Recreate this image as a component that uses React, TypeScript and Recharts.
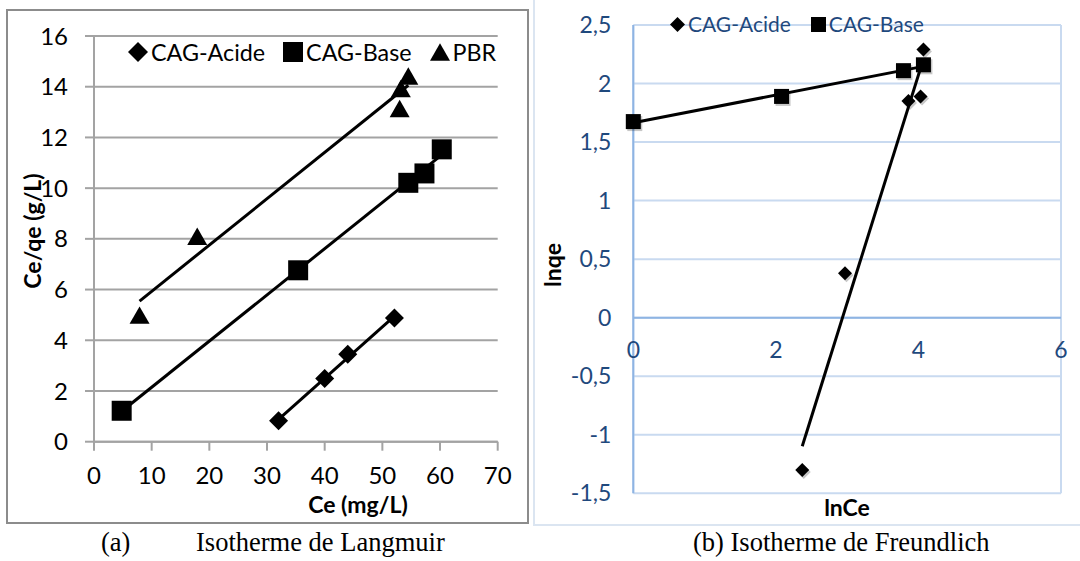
import React from "react";
import {
	CartesianGrid,
	Legend,
	ReferenceDot,
	ReferenceLine,
	Scatter,
	ScatterChart,
	XAxis,
	YAxis,
} from "recharts";

// (a) Langmuir : Ce (mg/L) vs Ce/qe (g/L)
const langAcideCe = [32, 40, 44, 52.1];
const langAcideRatio = [0.83, 2.49, 3.45, 4.88];
const langBaseCe = [4.8, 35.4, 54.5, 57.3, 60.3];
const langBaseRatio = [1.22, 6.76, 10.21, 10.58, 11.53];
const langPbrCe = [7.9, 17.9, 53.0, 53.2, 54.5];
const langPbrRatio = [4.99, 8.1, 13.14, 13.93, 14.42];
const langXTicks = [0, 10, 20, 30, 40, 50, 60, 70];
const langYTicks = [0, 2, 4, 6, 8, 10, 12, 14, 16];

// (b) Freundlich : lnCe vs lnqe
const freuAcideLnCe = [2.37, 2.97, 3.86, 4.03, 4.07];
const freuAcideLnQe = [-1.3, 0.38, 1.85, 1.89, 2.29];
const freuBaseLnCe = [0, 2.08, 3.79, 4.07];
const freuBaseLnQe = [1.675, 1.89, 2.11, 2.16];
const freuXTicks = [0, 2, 4, 6];
const freuYTicks = [-1.5, -1, -0.5, 0, 0.5, 1, 1.5, 2, 2.5];

const FONT = "Lato, 'Noto Sans', sans-serif";
const TEXT_BLUE = "#1f497d";

const zip = (xs: number[], ys: number[]) => xs.map((x, i) => ({ x, y: ys[i] }));

// linear trendline (least squares) spanning the data's x range, like Excel
function trend(xs: number[], ys: number[]) {
	const n = xs.length;
	const mx = xs.reduce((a, b) => a + b, 0) / n;
	const my = ys.reduce((a, b) => a + b, 0) / n;
	let sxy = 0;
	let sxx = 0;
	xs.forEach((x, i) => {
		sxy += (x - mx) * (ys[i] - my);
		sxx += (x - mx) * (x - mx);
	});
	const slope = sxy / sxx;
	const x0 = Math.min(...xs);
	const x1 = Math.max(...xs);
	return [
		{ x: x0, y: my + slope * (x0 - mx) },
		{ x: x1, y: my + slope * (x1 - mx) },
	];
}

const comma = (v: number) => String(v).replace(".", ",");

const shadow = "rgba(0,0,0,0.22)";

function markerPath(type: string, cx: number, cy: number, h: number) {
	if (type === "diamond") {
		return `M${cx},${cy - h}L${cx + h},${cy}L${cx},${cy + h}L${cx - h},${cy}Z`;
	}
	if (type === "triangle") {
		const t = h * 0.87;
		return `M${cx},${cy - t}L${cx + h},${cy + t}L${cx - h},${cy + t}Z`;
	}
	return `M${cx - h},${cy - h}h${2 * h}v${2 * h}h${-2 * h}Z`;
}

const marker = (type: string, h: number, withShadow = false) => (p: any) => (
	<g>
		{withShadow && (
			<path d={markerPath(type, p.cx + 1.5, p.cy + 2, h)} fill={shadow} />
		)}
		<path d={markerPath(type, p.cx, p.cy, h)} fill="#000" />
	</g>
);

const noMarker = () => <g />;

const legendContent =
	(color: string, fontSize: number, iconSize: number, gap: number) =>
	(props: any) => (
		<div
			style={{
				display: "flex",
				alignItems: "center",
				fontFamily: FONT,
				whiteSpace: "nowrap",
			}}
		>
			{(props.payload || [])
				.filter((entry: any) => entry.type !== "none")
				.map((entry: any) => (
					<span
						key={entry.value}
						style={{ display: "flex", alignItems: "center", marginRight: gap }}
					>
						<svg width={iconSize + 2} height={iconSize + 2}>
							<path
								d={markerPath(
									entry.type,
									(iconSize + 2) / 2,
									(iconSize + 2) / 2,
									iconSize / 2,
								)}
								fill="#000"
							/>
						</svg>
						<span style={{ marginLeft: 2, color, fontSize, lineHeight: "26px" }}>
							{entry.value}
						</span>
					</span>
				))}
		</div>
	);

const title: React.CSSProperties = {
	position: "absolute",
	fontFamily: FONT,
	fontWeight: 700,
	fontSize: 23,
	whiteSpace: "nowrap",
	color: "#000",
	transform: "translate(-50%, -50%)",
};

const caption: React.CSSProperties = {
	position: "absolute",
	fontFamily: "'Liberation Serif', 'Times New Roman', serif",
	fontSize: 26.5,
	lineHeight: "26px",
	whiteSpace: "nowrap",
	color: "#000",
};

export default function App() {
	return (
		<div
			style={{
				position: "absolute",
				left: 0,
				top: 0,
				width: 1080,
				height: 561,
				background: "#fff",
				overflow: "hidden",
				fontFamily: FONT,
			}}
		>
			{/* (a) Langmuir */}
			<div
				style={{
					position: "absolute",
					left: 6,
					top: 9,
					width: 523,
					height: 515,
					border: "2px solid #8c8c8c",
					boxSizing: "border-box",
				}}
			>
				<ScatterChart
					width={519}
					height={511}
					margin={{ top: 25, right: 29.3, left: 26, bottom: 40.3 }}
				>
					<CartesianGrid vertical={false} stroke="#a3a3a3" strokeWidth={2} />
					<XAxis
						type="number"
						dataKey="x"
						domain={[0, 70]}
						ticks={langXTicks}
						height={40}
						axisLine={{ stroke: "#a3a3a3", strokeWidth: 2 }}
						tickLine={{ stroke: "#a3a3a3", strokeWidth: 2 }}
						tickSize={9}
						tickMargin={16}
						tick={{ fill: "#000", fontSize: 24 }}
					/>
					<YAxis
						type="number"
						dataKey="y"
						domain={[0, 16]}
						ticks={langYTicks}
						width={60}
						axisLine={{ stroke: "#a3a3a3", strokeWidth: 2 }}
						tickLine={{ stroke: "#a3a3a3", strokeWidth: 2 }}
						tickSize={9}
						tickMargin={17}
						tick={{ fill: "#000", fontSize: 24 }}
					/>
					<Legend
						layout="horizontal"
						verticalAlign="middle"
						align="center"
						wrapperStyle={{ left: 119, top: 28, width: 400 }}
						content={legendContent("#000", 23.3, 20, 17)}
					/>
					<Scatter
						name="CAG-Acide"
						legendType="diamond"
						data={zip(langAcideCe, langAcideRatio)}
						fill="#000"
						shape={marker("diamond", 9.5)}
						isAnimationActive={false}
					/>
					<Scatter
						name="CAG-Base"
						legendType="square"
						data={zip(langBaseCe, langBaseRatio)}
						fill="#000"
						shape={marker("square", 10)}
						isAnimationActive={false}
					/>
					<Scatter
						name="PBR"
						legendType="triangle"
						data={zip(langPbrCe, langPbrRatio)}
						fill="#000"
						shape={marker("triangle", 10)}
						isAnimationActive={false}
					/>
					<Scatter
						legendType="none"
						data={trend(langAcideCe, langAcideRatio)}
						line={{ stroke: "#000", strokeWidth: 3 }}
						shape={noMarker}
						isAnimationActive={false}
					/>
					<Scatter
						legendType="none"
						data={trend(langBaseCe, langBaseRatio)}
						line={{ stroke: "#000", strokeWidth: 3 }}
						shape={noMarker}
						isAnimationActive={false}
					/>
					<Scatter
						legendType="none"
						data={trend(langPbrCe, langPbrRatio)}
						line={{ stroke: "#000", strokeWidth: 3 }}
						shape={noMarker}
						isAnimationActive={false}
					/>
				</ScatterChart>
			</div>
			<div style={{ ...title, left: 32, top: 231, transform: "translate(-50%, -50%) rotate(-90deg)" }}>
				Ce/qe (g/L)
			</div>
			<div style={{ ...title, left: 358, top: 504 }}>Ce (mg/L)</div>

			{/* (b) Freundlich */}
			<div
				style={{
					position: "absolute",
					left: 533,
					top: -2,
					width: 600,
					height: 528,
					border: "2px solid #dbe5f1",
					boxSizing: "border-box",
				}}
			>
				<ScatterChart
					width={545}
					height={524}
					margin={{ top: 25, right: 19, left: 38.3, bottom: 29.7 }}
				>
					<CartesianGrid stroke="#c9daf0" strokeWidth={2} />
					<XAxis
						type="number"
						dataKey="x"
						domain={[0, 6]}
						ticks={freuXTicks}
						height={1}
						axisLine={false}
						tickLine={false}
						tick={false}
					/>
					<YAxis
						type="number"
						dataKey="y"
						domain={[-1.5, 2.5]}
						ticks={freuYTicks}
						width={60}
						axisLine={{ stroke: "#8eb4e3", strokeWidth: 2 }}
						tickLine={false}
						tickSize={6}
						tickMargin={16}
						tickFormatter={comma}
						tick={{ fill: TEXT_BLUE, fontSize: 23 }}
					/>
					<ReferenceLine y={0} stroke="#8eb4e3" strokeWidth={2} />
					{freuXTicks.map((t) => (
						<ReferenceDot
							key={t}
							x={t}
							y={0}
							r={0}
							fill="none"
							stroke="none"
							label={{
								value: comma(t),
								position: "bottom",
								offset: 24,
								fill: TEXT_BLUE,
								fontSize: 23,
							}}
						/>
					))}
					<Legend
						layout="horizontal"
						verticalAlign="middle"
						align="center"
						wrapperStyle={{ left: 134, top: 11, width: 400 }}
						content={legendContent(TEXT_BLUE, 21, 15, 19)}
					/>
					<Scatter
						legendType="none"
						data={trend(freuAcideLnCe, freuAcideLnQe)}
						line={{ stroke: "#000", strokeWidth: 3 }}
						shape={noMarker}
						isAnimationActive={false}
					/>
					<Scatter
						legendType="none"
						data={trend(freuBaseLnCe, freuBaseLnQe)}
						line={{ stroke: "#000", strokeWidth: 3 }}
						shape={noMarker}
						isAnimationActive={false}
					/>
					<Scatter
						name="CAG-Acide"
						legendType="diamond"
						data={zip(freuAcideLnCe, freuAcideLnQe)}
						fill="#000"
						shape={marker("diamond", 7, true)}
						isAnimationActive={false}
					/>
					<Scatter
						name="CAG-Base"
						legendType="square"
						data={zip(freuBaseLnCe, freuBaseLnQe)}
						fill="#000"
						shape={marker("square", 7.5, true)}
						isAnimationActive={false}
					/>
				</ScatterChart>
			</div>
			<div style={{ ...title, left: 552, top: 265, transform: "translate(-50%, -50%) rotate(-90deg)" }}>
				lnqe
			</div>
			<div style={{ ...title, left: 847, top: 507 }}>lnCe</div>

			<div style={{ ...caption, left: 101, top: 529 }}>(a)</div>
			<div style={{ ...caption, left: 196, top: 529 }}>Isotherme de Langmuir</div>
			<div style={{ ...caption, left: 693, top: 529 }}>(b) Isotherme de Freundlich</div>
		</div>
	);
}
